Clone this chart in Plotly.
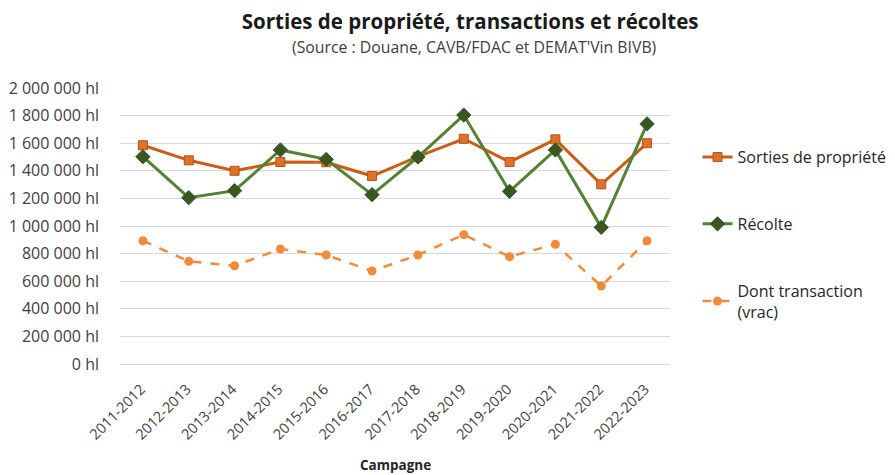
import plotly.graph_objects as go

campagnes = ["2011-2012", "2012-2013", "2013-2014", "2014-2015", "2015-2016", "2016-2017",
             "2017-2018", "2018-2019", "2019-2020", "2020-2021", "2021-2022", "2022-2023"]
sorties = [1585000, 1476000, 1400000, 1464000, 1462000, 1362000,
           1502000, 1632000, 1464000, 1628000, 1302000, 1600000]
recolte = [1502000, 1205000, 1256000, 1551000, 1483000, 1227000,
           1500000, 1804000, 1251000, 1551000, 990000, 1740000]
transaction = [893000, 744000, 712000, 833000, 790000, 674000,
               790000, 937000, 778000, 867000, 565000, 893000]
ytick_vals = [0, 200000, 400000, 600000, 800000, 1000000, 1200000, 1400000, 1600000, 1800000, 2000000]
ytick_text = ["0 hl", "200 000 hl", "400 000 hl", "600 000 hl", "800 000 hl", "1 000 000 hl",
              "1 200 000 hl", "1 400 000 hl", "1 600 000 hl", "1 800 000 hl", "2 000 000 hl"]

FONT = "Open Sans"
fig = go.Figure()
fig.add_trace(go.Scatter(
    x=campagnes, y=sorties, name="Sorties de propriété", mode="lines+markers",
    legendgroup="a",
    line=dict(color="#C95F17", width=3),
    marker=dict(symbol="square", size=9, color="#E0712A", line=dict(color="#B5521A", width=1))))
fig.add_trace(go.Scatter(
    x=campagnes, y=recolte, name="Récolte", mode="lines+markers",
    legendgroup="b",
    line=dict(color="#548235", width=3),
    marker=dict(symbol="diamond", size=11, color="#385723", line=dict(color="#385723", width=1))))
fig.add_trace(go.Scatter(
    x=campagnes, y=transaction, name="Dont transaction<br>(vrac)", mode="lines+markers",
    legendgroup="c",
    line=dict(color="#F08A3C", width=2.5, dash="dash"),
    marker=dict(symbol="circle", size=9, color="#F08A3C")))

fig.update_layout(
    width=887, height=467,
    paper_bgcolor="white", plot_bgcolor="white",
    margin=dict(l=112, r=225, t=80, b=111, autoexpand=False),
    font=dict(family=FONT, color="#404040", size=14),
    title=dict(
        text="<b>Sorties de propriété, transactions et récoltes</b>",
        x=0.521, xanchor="center", y=1 - 14 / 467, yanchor="middle",
        font=dict(family=FONT, size=20.5, color="#1a1a1a")),
    annotations=[
        dict(text="(Source : Douane, CAVB/FDAC et DEMAT'Vin BIVB)", xref="paper", yref="paper",
             x=0.645, y=1.1486, xanchor="center", yanchor="middle", showarrow=False,
             font=dict(family=FONT, size=15.8, color="#404040")),
        dict(text="<b>Campagne</b>", xref="paper", yref="paper",
             x=0.5, y=-0.366, xanchor="center", yanchor="middle", showarrow=False,
             font=dict(family=FONT, size=13.5, color="#262626")),
    ],
    showlegend=True,
    legend=dict(x=1.05, xanchor="left", y=0.811, yanchor="top",
                font=dict(family=FONT, size=16, color="#262626"),
                tracegroupgap=43, bgcolor="rgba(0,0,0,0)"),
    xaxis=dict(type="category", range=[-0.5, 11.5], tickangle=-45, showgrid=False, showline=False,
               ticks="", tickfont=dict(size=14.5, color="#404040"), automargin=False,
               ticklabelshift=-2, ticklabelstandoff=13),
    yaxis=dict(range=[0, 2000000], tickvals=ytick_vals, ticktext=ytick_text,
               showgrid=True, gridcolor="#D9D9D9", gridwidth=1,
               zeroline=True, zerolinecolor="#D9D9D9", zerolinewidth=1,
               showline=False, ticks="", ticklabelstandoff=20, automargin=False,
               tickfont=dict(size=16, color="#404040")),
)
fig.write_html("out.html")
